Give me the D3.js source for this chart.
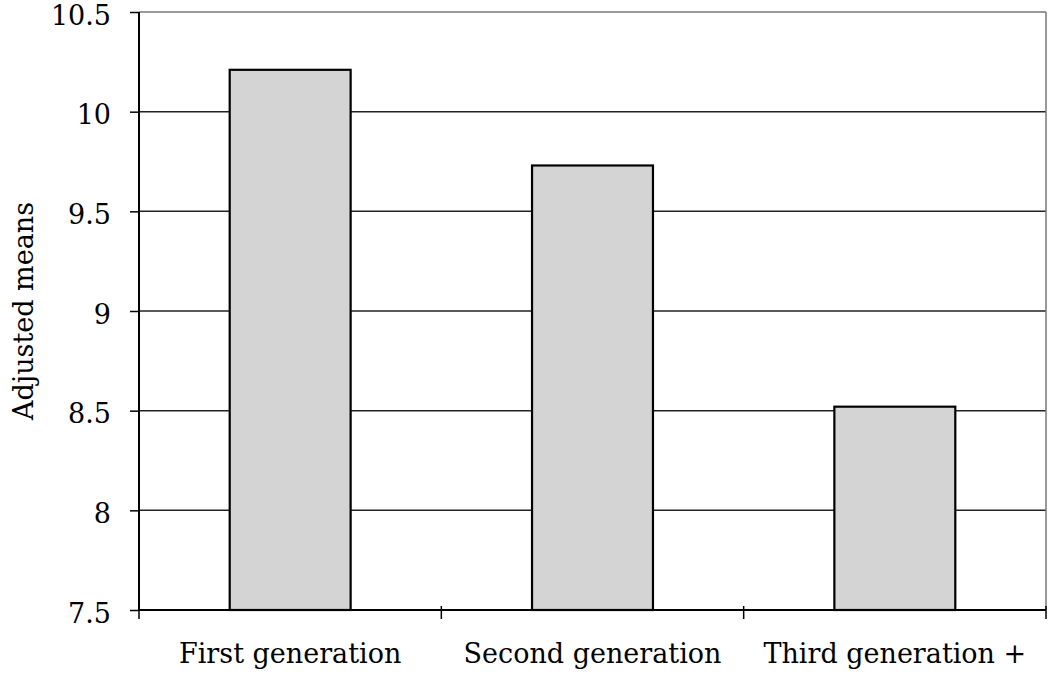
<!DOCTYPE html>
<html>
<head>
<meta charset="utf-8">
<script src="https://cdn.jsdelivr.net/npm/d3@7"></script>
<style>
  body { margin: 0; background: #fff; }
  svg { display: block; }
</style>
</head>
<body>
<svg id="chart" width="1050" height="678"></svg>
<script>
var categories = ["First generation", "Second generation", "Third generation +"];
var values = [10.21, 9.73, 8.52];
var yTicks = [7.5, 8, 8.5, 9, 9.5, 10, 10.5];
var yLabel = "Adjusted means";

var FONT = "'DejaVu Serif', 'Liberation Serif', serif";
var FONT_SIZE = 27;
var margin = { top: 12, right: 4, bottom: 68, left: 139 };
var width = 1050, height = 678;

var svg = d3.select("#chart");
var g = svg.append("g").attr("transform", "translate(" + margin.left + "," + margin.top + ")");
var innerW = width - margin.left - margin.right;
var innerH = height - margin.top - margin.bottom;

var x = d3.scaleBand().domain(categories).range([0, innerW]).paddingInner(0.6).paddingOuter(0.3);
var y = d3.scaleLinear().domain([7.5, 10.5]).range([innerH, 0]);

// gridlines
g.selectAll("line.grid")
  .data(yTicks.slice(1))
  .enter().append("line")
  .attr("x1", 0).attr("x2", innerW)
  .attr("y1", function(d) { return y(d); })
  .attr("y2", function(d) { return y(d); })
  .attr("stroke", function(d) { return d === 10.5 ? "#777" : "#222"; })
  .attr("stroke-width", 1.5);

// right border
g.append("line")
  .attr("x1", innerW).attr("x2", innerW)
  .attr("y1", 0).attr("y2", innerH)
  .attr("stroke", "#777").attr("stroke-width", 1.5);

// bars
g.selectAll("rect.bar")
  .data(values)
  .enter().append("rect")
  .attr("x", function(d, i) { return x(categories[i]); })
  .attr("y", function(d) { return y(d); })
  .attr("width", x.bandwidth())
  .attr("height", function(d) { return innerH - y(d); })
  .attr("fill", "#d4d4d4")
  .attr("stroke", "#000")
  .attr("stroke-width", 2.2);

// y axis
var yAxis = d3.axisLeft(y).tickValues(yTicks).tickSize(9).tickPadding(19)
  .tickFormat(function(d) { return d; });
var ya = g.append("g").call(yAxis);
ya.select(".domain").attr("stroke", "#000").attr("stroke-width", 2).attr("d", "M0," + innerH + "V0");
ya.selectAll(".tick line").attr("stroke", "#000").attr("stroke-width", 1.5);
ya.selectAll("text").attr("font-family", FONT).attr("font-size", FONT_SIZE).attr("fill", "#000")
  .attr("dy", "0.45em");

// x axis with boundary ticks
var xa = g.append("g").attr("transform", "translate(0," + innerH + ")");
xa.append("line").attr("x1", 0).attr("x2", innerW).attr("stroke", "#000").attr("stroke-width", 2);
var bounds = [0].concat(categories.map(function(c) { return x(c) + x.bandwidth() + x.step() * x.paddingInner() / 2; }));
xa.selectAll("line.tick")
  .data(bounds)
  .enter().append("line")
  .attr("x1", function(d) { return Math.min(d, innerW); })
  .attr("x2", function(d) { return Math.min(d, innerW); })
  .attr("y1", -4).attr("y2", 9)
  .attr("stroke", "#000").attr("stroke-width", 1.5);
xa.selectAll("text")
  .data(categories)
  .enter().append("text")
  .attr("x", function(d) { return x(d) + x.bandwidth() / 2; })
  .attr("y", 53)
  .attr("text-anchor", "middle")
  .attr("font-family", FONT).attr("font-size", FONT_SIZE).attr("fill", "#000")
  .text(function(d) { return d; });

// y label
svg.append("text")
  .attr("transform", "translate(33,311) rotate(-90)")
  .attr("text-anchor", "middle")
  .attr("font-family", FONT).attr("font-size", FONT_SIZE).attr("fill", "#000")
  .text(yLabel);
</script>
</body>
</html>
